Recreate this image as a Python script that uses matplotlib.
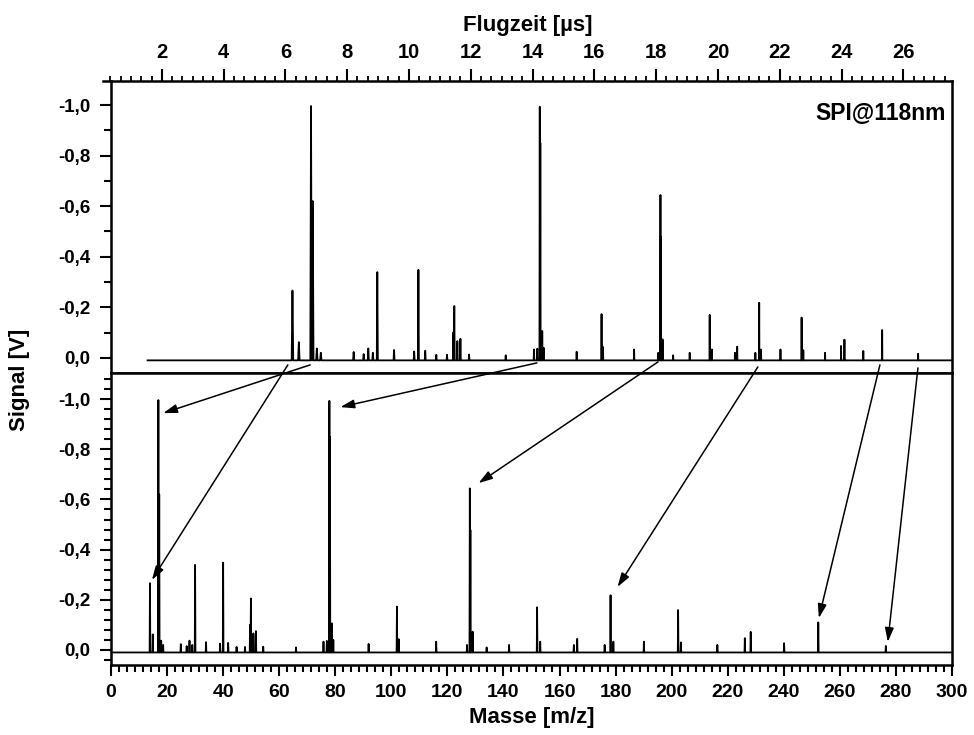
import matplotlib
matplotlib.use("Agg")
import matplotlib.pyplot as plt
from matplotlib.ticker import MultipleLocator, AutoMinorLocator, FuncFormatter
import numpy as np

plt.rcParams['font.family'] = ['Liberation Sans', 'DejaVu Sans']
plt.rcParams['font.weight'] = 'bold'

# mass spectrum peaks: m/z and signal magnitude [V] (signal is negative)
peak_mass = [13.9, 14.9, 16.9, 17.2, 17.9, 18.6, 24.9, 27.0, 28.0, 29.0,
             30.0, 33.9, 38.9, 40.0, 41.8, 44.8, 47.8, 49.6, 49.9, 50.8,
             51.7, 54.3, 66.0, 75.8, 77.0, 77.9, 78.1, 78.8, 79.3, 91.9,
             102.0, 102.6, 116.0, 127.0, 128.0, 128.2, 129.0, 134.0, 142.0, 152.0,
             153.1, 165.1, 166.3, 176.1, 178.2, 179.2, 190.1, 202.3, 203.3, 216.3,
             226.1, 228.2, 240.1, 252.3, 276.4]
peak_height = [0.266, 0.062, 0.996, 0.62, 0.037, 0.02, 0.023, 0.015, 0.037, 0.02,
               0.339, 0.031, 0.025, 0.348, 0.028, 0.012, 0.012, 0.10, 0.205, 0.066,
               0.075, 0.013, 0.01, 0.033, 0.036, 0.993, 0.85, 0.106, 0.04, 0.024,
               0.173, 0.043, 0.033, 0.02, 0.644, 0.478, 0.073, 0.01, 0.02, 0.170,
               0.033, 0.02, 0.044, 0.02, 0.218, 0.033, 0.033, 0.159, 0.03, 0.02,
               0.047, 0.072, 0.027, 0.110, 0.016]
baseline = 0.01
mass_start, mass_end = 0.0, 300.0
time_trace_start = 0.55  # top trace begins a little right of the axis

# flight time calibration: t = t0 + a * sqrt(m)
t0 = 0.375
a_cal = 1.570

# arrows: tail in the time panel (t, signal), head in the mass panel (m, signal)
arrow_t = [6.80, 6.08, 14.14, 18.06, 21.29, 25.24, 26.47]
arrow_t_sig = [0.028, 0.028, 0.02, 0.016, 0.036, 0.028, 0.04]
arrow_m = [18.6, 14.6, 81.8, 131.1, 180.7, 252.5, 277.1]
arrow_m_sig = [-0.944, -0.279, -0.968, -0.665, -0.251, -0.127, -0.032]

# build stick spectrum
half_w = 0.12
xs, ys = [mass_start, time_trace_start], [baseline, baseline]
for m, h in sorted(zip(peak_mass, peak_height)):
    xs += [m - half_w, m, m + half_w]
    ys += [baseline, -h, baseline]
xs.append(mass_end)
ys.append(baseline)
xs = np.array(xs)
ys = np.array(ys)

keep = xs >= time_trace_start
ts = t0 + a_cal * np.sqrt(xs[keep])
ys_t = ys[keep]


def comma(v, pos):
    s = f"{v:.1f}".replace('.', ',')
    return "0,0" if s == "-0,0" else s


W, H = 974, 735
px_us, x0_px = 30.9, 100.0
left, right, top, mid, bot = 111, 952, 81, 373, 665

fig = plt.figure(figsize=(9.74, 7.35), dpi=100)
ax_top = fig.add_axes([left / W, 1 - mid / H, (right - left) / W, (mid - top) / H])
ax_bot = fig.add_axes([left / W, 1 - bot / H, (right - left) / W, (bot - mid) / H])
ax_time = fig.add_axes([103 / W, 1 - mid / H, (right - 103) / W, (mid - top) / H])

lw_sp = 1.8
for ax in (ax_top, ax_bot, ax_time):
    for s in ax.spines.values():
        s.set_linewidth(lw_sp)

# top panel: spectrum vs flight time
ax_top.plot(ts, ys_t, color='black', lw=1.3)
ax_top.set_xlim((left - x0_px) / px_us, (right - x0_px) / px_us)
ax_top.set_ylim(0.06, -1.095)
ax_top.spines['top'].set_visible(False)
ax_top.set_xticks([])
ax_top.yaxis.set_major_locator(MultipleLocator(0.2))
ax_top.yaxis.set_minor_locator(MultipleLocator(0.1))
ax_top.yaxis.set_major_formatter(FuncFormatter(comma))
ax_top.tick_params(axis='y', which='major', direction='out', length=8, width=1.5,
                   labelsize=13.5, pad=7)
ax_top.tick_params(axis='y', which='minor', direction='out', length=5, width=1.5)
ax_top.text(0.992, 0.89, "SPI@118nm", transform=ax_top.transAxes, ha='right',
            va='center', fontsize=16.5, fontweight='bold')

# time axis on top
ax_time.patch.set_visible(False)
for k in ('left', 'right', 'bottom'):
    ax_time.spines[k].set_visible(False)
ax_time.set_yticks([])
ax_time.set_xlim((103 - x0_px) / px_us, (right - x0_px) / px_us)
ax_time.xaxis.tick_top()
ax_time.xaxis.set_label_position('top')
ax_time.xaxis.set_minor_locator(AutoMinorLocator(6))
ax_time.set_xticks([2, 4, 6, 8, 10, 12, 14, 16, 18, 20, 22, 24, 26])
ax_time.tick_params(axis='x', which='major', direction='out', length=8.5, width=1.5,
                    labelsize=14.5, pad=5)
ax_time.tick_params(axis='x', which='minor', direction='out', length=3.8, width=1.3)
ax_time.set_xlabel("Flugzeit [µs]", fontsize=16, fontweight='bold', labelpad=9)

# bottom panel: spectrum vs mass
ax_bot.plot(xs, ys, color='black', lw=1.3)
ax_bot.set_xlim(mass_start, mass_end)
ax_bot.set_ylim(0.06, -1.104)
ax_bot.xaxis.set_major_locator(MultipleLocator(20))
ax_bot.xaxis.set_minor_locator(AutoMinorLocator(7))
ax_bot.yaxis.set_major_locator(MultipleLocator(0.2))
ax_bot.yaxis.set_minor_locator(MultipleLocator(0.04))
ax_bot.yaxis.set_major_formatter(FuncFormatter(comma))
ax_bot.tick_params(axis='both', which='major', direction='out', length=8, width=1.5,
                   pad=7)
ax_bot.tick_params(axis='y', labelsize=13.5)
ax_bot.tick_params(axis='x', labelsize=14, pad=6)
ax_bot.tick_params(axis='both', which='minor', direction='out', length=5, width=1.5)
ax_bot.set_xlabel("Masse [m/z]", fontsize=16, fontweight='bold', labelpad=4)

fig.text(20 / W, 0.483, "Signal [V]", rotation=90, ha='center', va='center',
         fontsize=16, fontweight='bold')

# arrows linking the time peaks to the mass peaks
for tt, ts_, mm, ms in zip(arrow_t, arrow_t_sig, arrow_m, arrow_m_sig):
    ax_bot.annotate("", xy=(mm, ms), xycoords='data',
                    xytext=(tt, ts_), textcoords=ax_top.transData,
                    arrowprops=dict(arrowstyle='-|>,head_length=0.7,head_width=0.22',
                                    color='black', lw=1.1, shrinkA=0, shrinkB=0,
                                    mutation_scale=12),
                    annotation_clip=False)

fig.savefig("out.png", dpi=100)
